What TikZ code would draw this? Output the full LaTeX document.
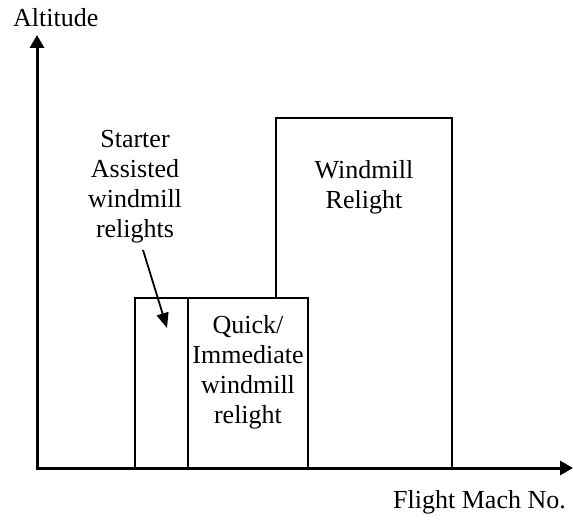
\documentclass[tikz,border=0pt]{standalone}
\usepackage{fontspec}
\setmainfont{Liberation Serif}
\usetikzlibrary{arrows.meta}
\tikzset{
  lbl/.style={inner sep=0pt, align=center, font=\fontsize{26}{30}\selectfont},
  region/.style={draw=black, line width=1.6pt, fill=white},
  axis/.style={line width=3pt, -{Triangle[length=13pt,width=14pt]}},
  pointer/.style={line width=1.8pt, -{Triangle[length=15pt,width=12pt]}}
}
\begin{document}
\begin{tikzpicture}[x=1pt,y=-1pt]
\useasboundingbox (0,0) rectangle (573,521);
% regions
\draw[region] (276,118) rectangle (452,468);
\draw[region] (135,298) rectangle (188,468);
\draw[region] (188,298) rectangle (308,468);
% axes
\coordinate (origin) at (37,468);
\coordinate (ytop) at (37,35);
\coordinate (xend) at (573,468);
\draw[axis] (origin) -- (ytop);
\draw[axis] ([xshift=-1.5pt]origin) -- (xend);
% labels
\node[lbl, anchor=base west] (alt) at (13,27) {Altitude};
\node[lbl, anchor=base west] (mach) at (393,508) {Flight Mach No.};
\node[lbl] (wm) at (364,187) {Windmill\\Relight};
\node[lbl] (starter) at (135,186.5) {Starter\\Assisted\\windmill\\relights};
\node[lbl] (quick) at (248,372.5) {Quick/\\Immediate\\windmill\\relight};
% pointer
\coordinate (ptail) at (143,250);
\coordinate (ptip) at (167,328);
\draw[pointer] (ptail) -- (ptip);
\end{tikzpicture}
\end{document}
